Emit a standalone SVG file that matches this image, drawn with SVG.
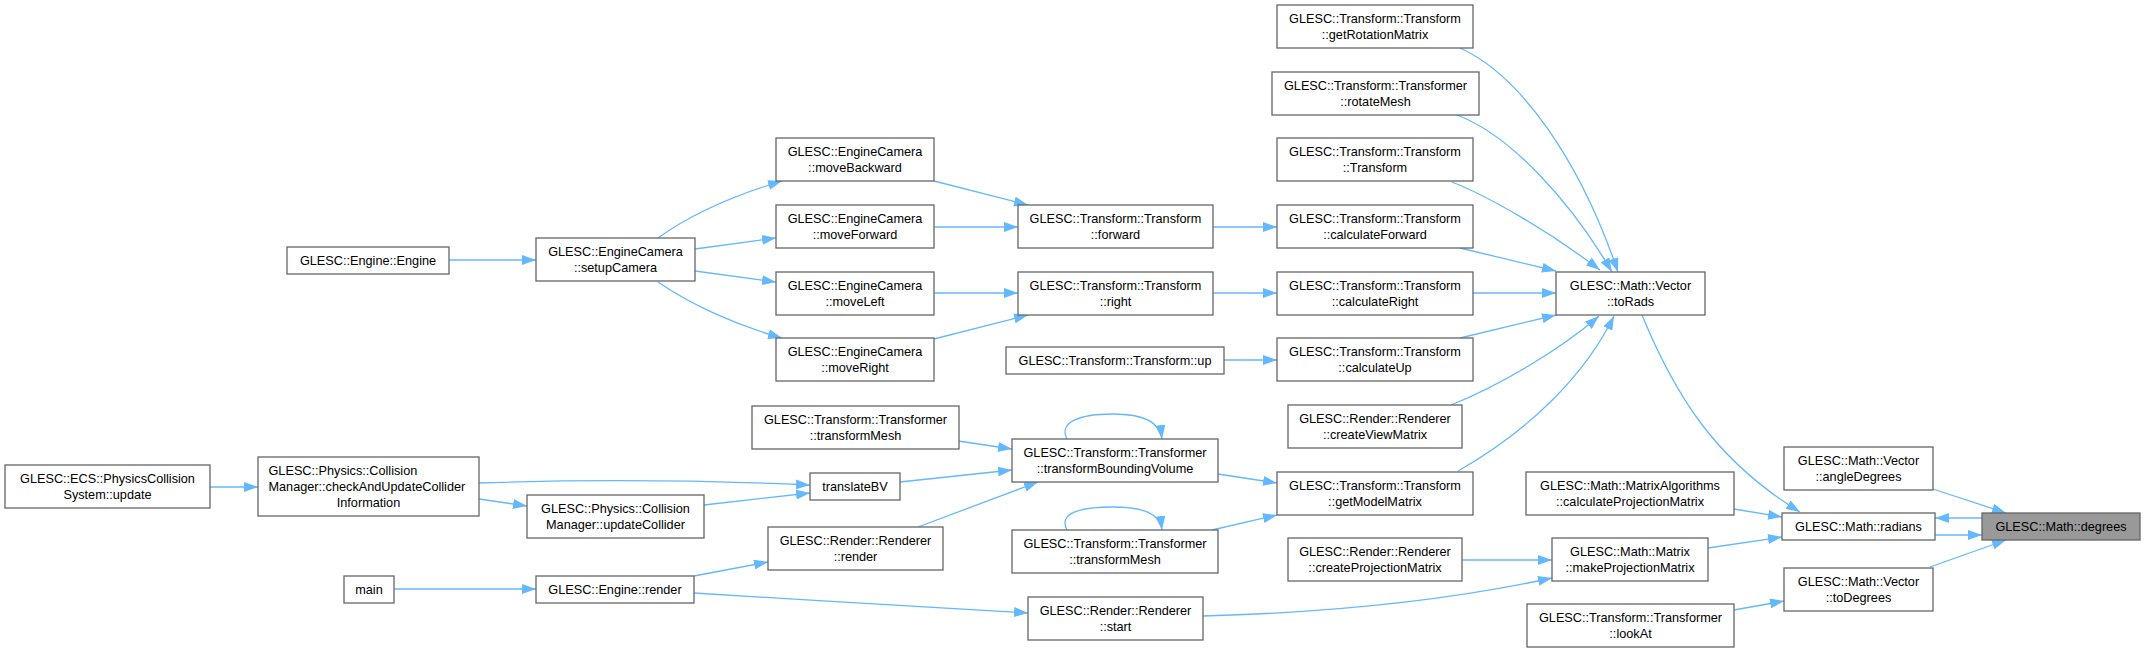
<svg xmlns="http://www.w3.org/2000/svg" width="2145" height="653" viewBox="0 0 2145 653">
<style>
.n rect{fill:#ffffff;stroke:#666666;stroke-width:1.3}
.hl rect{fill:#999999;stroke:#666666;stroke-width:1.3}
text{font-family:"Liberation Sans",Arial,sans-serif;font-size:12.7px;fill:#000000;text-anchor:middle}
.l{text-anchor:start}
.e path{fill:none;stroke:#63b8ff;stroke-width:1.3;marker-end:url(#ah)}
</style>
<defs>
<marker id="ah" viewBox="0 0 14 10" refX="14" refY="5" markerWidth="14" markerHeight="10" markerUnits="userSpaceOnUse" orient="auto"><path d="M0,0 L14,5 L0,10 z" fill="#63b8ff"/></marker>
</defs>
<rect width="2145" height="653" fill="#ffffff"/>
<g class="e" id="edges">
<path d="M449,260 L536,260"/>
<path d="M658,238 C690,215 735,195 782,181"/>
<path d="M695,249 L776,238"/>
<path d="M695,271 L776,282"/>
<path d="M658,282 C690,304 735,325 782,338"/>
<path d="M934,181 L1028,205"/>
<path d="M934,227 L1018,227"/>
<path d="M934,293 L1018,293"/>
<path d="M934,339 L1028,315"/>
<path d="M1213,227 L1277,227"/>
<path d="M1213,293 L1277,293"/>
<path d="M1224,360 L1277,360"/>
<path d="M1460,48 C1520,75 1580,160 1618,272"/>
<path d="M1457,115 C1510,135 1570,200 1612,272"/>
<path d="M1452,182 C1490,197 1550,232 1600,270"/>
<path d="M1460,248 L1556,271"/>
<path d="M1473,293 L1556,293"/>
<path d="M1460,338 L1556,315"/>
<path d="M1451,405 C1500,385 1560,350 1599,316"/>
<path d="M1458,471 C1530,430 1585,375 1614,316"/>
<path d="M1642,315 C1675,395 1715,460 1800,512"/>
<path d="M1734,509 L1782,517"/>
<path d="M1708,548 L1782,537"/>
<path d="M1982,518 L1935,518"/>
<path d="M1935,535 L1982,535"/>
<path d="M1933,489 L2006,513"/>
<path d="M1930,567 L2006,540"/>
<path d="M1734,610 L1784,601"/>
<path d="M1462,560 L1552,560"/>
<path d="M1203,616 C1350,612 1460,598 1552,578"/>
<path d="M394,589 L536,589"/>
<path d="M694,576 L768,562"/>
<path d="M694,593 C800,600 950,608 1028,613"/>
<path d="M210,487 L258,487"/>
<path d="M479,499 L527,506"/>
<path d="M479,483 C600,479 720,481 810,485"/>
<path d="M704,505 L810,493"/>
<path d="M900,482 L1012,470"/>
<path d="M958,441 L1012,449"/>
<path d="M918,527 L1038,482"/>
<path d="M1067,439 C1058,422 1080,414 1113,414 C1142,414 1160,422 1162,439"/>
<path d="M1067,530 C1058,513 1080,507 1113,507 C1142,507 1160,513 1162,530"/>
<path d="M1218,474 L1277,483"/>
<path d="M1212,530 L1277,515"/>
</g>
<g class="n" id="pcs_update"><rect x="5" y="465" width="205" height="43"/><text x="107.5" y="483.3">GLESC::ECS::PhysicsCollision</text><text x="107.5" y="499.3">System::update</text></g>
<g class="n" id="engine"><rect x="287" y="247" width="162" height="27"/><text x="368" y="265">GLESC::Engine::Engine</text></g>
<g class="n" id="check"><rect x="258" y="457" width="221" height="59"/><text class="l" x="268.5" y="475.3">GLESC::Physics::Collision</text><text class="l" x="268.5" y="491.3">Manager::checkAndUpdateCollider</text><text x="368.5" y="507.3">Information</text></g>
<g class="n" id="main"><rect x="344" y="576" width="50" height="27"/><text x="369" y="594">main</text></g>
<g class="n" id="setup"><rect x="536" y="238" width="159" height="43"/><text x="615.5" y="256.3">GLESC::EngineCamera</text><text x="615.5" y="272.3">::setupCamera</text></g>
<g class="n" id="updcol"><rect x="527" y="495" width="177" height="43"/><text x="615.5" y="513.3">GLESC::Physics::Collision</text><text x="615.5" y="529.3">Manager::updateCollider</text></g>
<g class="n" id="erender"><rect x="536" y="576" width="158" height="27"/><text x="615" y="594">GLESC::Engine::render</text></g>
<g class="n" id="mback"><rect x="776" y="138" width="158" height="43"/><text x="855" y="156.3">GLESC::EngineCamera</text><text x="855" y="172.3">::moveBackward</text></g>
<g class="n" id="mfwd"><rect x="776" y="205" width="158" height="43"/><text x="855" y="223.3">GLESC::EngineCamera</text><text x="855" y="239.3">::moveForward</text></g>
<g class="n" id="mleft"><rect x="776" y="272" width="158" height="43"/><text x="855" y="290.3">GLESC::EngineCamera</text><text x="855" y="306.3">::moveLeft</text></g>
<g class="n" id="mright"><rect x="776" y="338" width="158" height="43"/><text x="855" y="356.3">GLESC::EngineCamera</text><text x="855" y="372.3">::moveRight</text></g>
<g class="n" id="tmesh1"><rect x="752" y="406" width="207" height="43"/><text x="855.5" y="424.3">GLESC::Transform::Transformer</text><text x="855.5" y="440.3">::transformMesh</text></g>
<g class="n" id="translatebv"><rect x="810" y="473" width="90" height="27"/><text x="855" y="491">translateBV</text></g>
<g class="n" id="rrender"><rect x="768" y="527" width="175" height="43"/><text x="855.5" y="545.3">GLESC::Render::Renderer</text><text x="855.5" y="561.3">::render</text></g>
<g class="n" id="fwd"><rect x="1018" y="205" width="195" height="43"/><text x="1115.5" y="223.3">GLESC::Transform::Transform</text><text x="1115.5" y="239.3">::forward</text></g>
<g class="n" id="right"><rect x="1018" y="272" width="195" height="43"/><text x="1115.5" y="290.3">GLESC::Transform::Transform</text><text x="1115.5" y="306.3">::right</text></g>
<g class="n" id="up"><rect x="1006" y="347" width="218" height="27"/><text x="1115" y="365">GLESC::Transform::Transform::up</text></g>
<g class="n" id="tbv"><rect x="1012" y="439" width="206" height="43"/><text x="1115" y="457.3">GLESC::Transform::Transformer</text><text x="1115" y="473.3">::transformBoundingVolume</text></g>
<g class="n" id="tmesh2"><rect x="1012" y="530" width="206" height="43"/><text x="1115" y="548.3">GLESC::Transform::Transformer</text><text x="1115" y="564.3">::transformMesh</text></g>
<g class="n" id="start"><rect x="1028" y="597" width="175" height="43"/><text x="1115.5" y="615.3">GLESC::Render::Renderer</text><text x="1115.5" y="631.3">::start</text></g>
<g class="n" id="getrot"><rect x="1277" y="5" width="196" height="43"/><text x="1375" y="23.3">GLESC::Transform::Transform</text><text x="1375" y="39.3">::getRotationMatrix</text></g>
<g class="n" id="rotmesh"><rect x="1272" y="72" width="207" height="43"/><text x="1375.5" y="90.3">GLESC::Transform::Transformer</text><text x="1375.5" y="106.3">::rotateMesh</text></g>
<g class="n" id="ttransform"><rect x="1277" y="138" width="196" height="43"/><text x="1375" y="156.3">GLESC::Transform::Transform</text><text x="1375" y="172.3">::Transform</text></g>
<g class="n" id="calcfwd"><rect x="1277" y="205" width="196" height="43"/><text x="1375" y="223.3">GLESC::Transform::Transform</text><text x="1375" y="239.3">::calculateForward</text></g>
<g class="n" id="calcright"><rect x="1277" y="272" width="196" height="43"/><text x="1375" y="290.3">GLESC::Transform::Transform</text><text x="1375" y="306.3">::calculateRight</text></g>
<g class="n" id="calcup"><rect x="1277" y="338" width="196" height="43"/><text x="1375" y="356.3">GLESC::Transform::Transform</text><text x="1375" y="372.3">::calculateUp</text></g>
<g class="n" id="cvm"><rect x="1288" y="405" width="174" height="43"/><text x="1375" y="423.3">GLESC::Render::Renderer</text><text x="1375" y="439.3">::createViewMatrix</text></g>
<g class="n" id="gmm"><rect x="1277" y="472" width="196" height="43"/><text x="1375" y="490.3">GLESC::Transform::Transform</text><text x="1375" y="506.3">::getModelMatrix</text></g>
<g class="n" id="cpm"><rect x="1288" y="538" width="174" height="43"/><text x="1375" y="556.3">GLESC::Render::Renderer</text><text x="1375" y="572.3">::createProjectionMatrix</text></g>
<g class="n" id="torads"><rect x="1556" y="272" width="149" height="43"/><text x="1630.5" y="290.3">GLESC::Math::Vector</text><text x="1630.5" y="306.3">::toRads</text></g>
<g class="n" id="calcproj"><rect x="1526" y="472" width="208" height="43"/><text x="1630" y="490.3">GLESC::Math::MatrixAlgorithms</text><text x="1630" y="506.3">::calculateProjectionMatrix</text></g>
<g class="n" id="makeproj"><rect x="1552" y="538" width="156" height="43"/><text x="1630" y="556.3">GLESC::Math::Matrix</text><text x="1630" y="572.3">::makeProjectionMatrix</text></g>
<g class="n" id="lookat"><rect x="1527" y="604" width="207" height="43"/><text x="1630.5" y="622.3">GLESC::Transform::Transformer</text><text x="1630.5" y="638.3">::lookAt</text></g>
<g class="n" id="angle"><rect x="1784" y="447" width="149" height="43"/><text x="1858.5" y="465.3">GLESC::Math::Vector</text><text x="1858.5" y="481.3">::angleDegrees</text></g>
<g class="n" id="radians"><rect x="1782" y="513" width="153" height="27"/><text x="1858.5" y="531">GLESC::Math::radians</text></g>
<g class="n" id="todeg"><rect x="1784" y="568" width="149" height="43"/><text x="1858.5" y="586.3">GLESC::Math::Vector</text><text x="1858.5" y="602.3">::toDegrees</text></g>
<g class="hl" id="degrees"><rect x="1982" y="513" width="158" height="27"/><text x="2061" y="531">GLESC::Math::degrees</text></g>
</svg>
